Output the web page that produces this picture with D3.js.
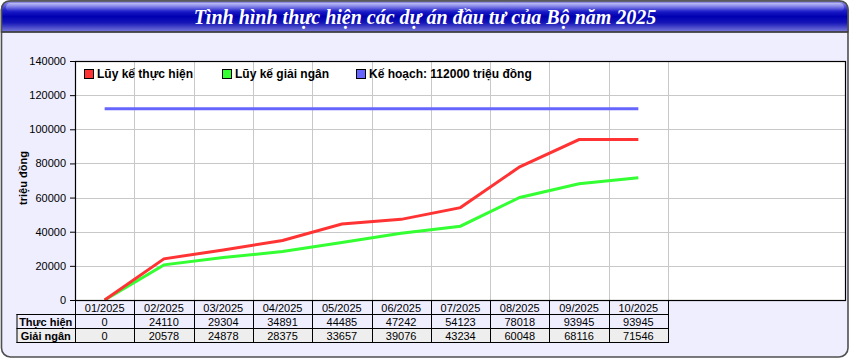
<!DOCTYPE html>
<html><head><meta charset="utf-8">
<script src="https://cdn.jsdelivr.net/npm/d3@7"></script>
<style>html,body{margin:0;padding:0;background:#fff;}svg{display:block;}</style>
</head><body>
<script>
const categories = ["01/2025","02/2025","03/2025","04/2025","05/2025","06/2025","07/2025","08/2025","09/2025","10/2025"];
const thucHien = [0,24110,29304,34891,44485,47242,54123,78018,93945,93945];
const giaiNgan = [0,20578,24878,28375,33657,39076,43234,60048,68116,71546];
const keHoach = [112000,112000,112000,112000,112000,112000,112000,112000,112000,112000];
const yTicks = [0,20000,40000,60000,80000,100000,120000,140000];
const seriesNames = ["Lũy kế thực hiện","Lũy kế giải ngân","Kế hoạch: 112000 triệu đồng"];
const rowLabels = ["Thực hiện","Giải ngân"];
const title = "Tình hình thực hiện các dự án đầu tư của Bộ năm 2025";
const yTitle = "triệu đồng";

const W=850,H=360;
const svg=d3.select("body").append("svg").attr("width",W).attr("height",H);
const defs=svg.append("defs");
const g1=defs.append("linearGradient").attr("id","tg").attr("x1",0).attr("y1",0).attr("x2",0).attr("y2",1);
[[0,"#a0a0e0"],[0.12,"#6a6ae6"],[0.3,"#2020cc"],[0.5,"#0000b0"],[0.7,"#1515b8"],[0.9,"#5a5ad0"],[1,"#7a7ada"]].forEach(s=>g1.append("stop").attr("offset",s[0]).attr("stop-color",s[1]));
const g2=defs.append("linearGradient").attr("id","hl").attr("x1",0).attr("y1",0).attr("x2",0).attr("y2",1);
g2.append("stop").attr("offset",0).attr("stop-color","#fff").attr("stop-opacity",0.45);
g2.append("stop").attr("offset",1).attr("stop-color","#fff").attr("stop-opacity",0.0);

// outer frame
svg.append("rect").attr("x",1.5).attr("y",1).attr("width",846.5).attr("height",356).attr("rx",9)
  .attr("fill","#EEEEFF").attr("stroke","#505050").attr("stroke-width",1.6);
// title bar
svg.append("path").attr("d","M1.5,32 L1.5,10 Q1.5,1 10.5,1 L839,1 Q848,1 848,10 L848,32 Z")
  .attr("fill","url(#tg)").attr("stroke","#505050").attr("stroke-width",1.6);
svg.append("rect").attr("x",6).attr("y",3).attr("width",838).attr("height",9).attr("rx",4.5).attr("fill","url(#hl)");
svg.append("line").attr("x1",1.5).attr("x2",848).attr("y1",32).attr("y2",32).attr("stroke","#303030").attr("stroke-width",1.2);
svg.append("text").attr("x",425).attr("y",24).attr("text-anchor","middle")
  .attr("font-family","'Liberation Serif','Times New Roman',serif").attr("font-style","italic").attr("font-weight","bold")
  .attr("font-size",20).attr("fill","#fff").text(title);

const pl=75, pr=845, pt=61, pb=300;
const x=d3.scaleBand().domain(categories).range([pl, pl+59.3*categories.length]).padding(0);
const y=d3.scaleLinear().domain([0,140000]).range([pb,pt]);
const cx=d=>x(d)+x.bandwidth()/2;

svg.append("rect").attr("x",pl).attr("y",pt).attr("width",pr-pl).attr("height",pb-pt).attr("fill","#fff");
// grid
svg.append("g").selectAll("line").data(yTicks.slice(1,-1)).join("line")
  .attr("x1",pl).attr("x2",pr).attr("y1",d=>Math.round(y(d))+0.5).attr("y2",d=>Math.round(y(d))+0.5)
  .attr("stroke","#c8c8c8").attr("stroke-width",1);
svg.append("g").selectAll("line").data(categories).join("line")
  .attr("x1",d=>Math.round(x(d)+x.bandwidth())+0.5).attr("x2",d=>Math.round(x(d)+x.bandwidth())+0.5)
  .attr("y1",pt).attr("y2",pb).attr("stroke","#c8c8c8").attr("stroke-width",1);

// y axis
const ya=svg.append("g").attr("transform",`translate(${pl},0)`)
  .call(d3.axisLeft(y).tickValues(yTicks).tickSize(5).tickFormat(d3.format("d")).tickSizeOuter(0));
ya.select(".domain").remove();
ya.selectAll("text").attr("font-family","'Liberation Sans',Arial,sans-serif").attr("font-size",11).attr("fill","#000").attr("dx","-1");
ya.selectAll("line").attr("stroke","#000");
svg.append("text").attr("transform","translate(27,178) rotate(-90)").attr("text-anchor","middle")
  .attr("font-family","'Liberation Sans',Arial,sans-serif").attr("font-weight","bold").attr("font-size",11).text(yTitle);

// lines
const colors=["#ff3333","#33ff33","#6666ff"];
const line=d3.line().x((d,i)=>cx(categories[i])).y(d=>y(d));
[keHoach,giaiNgan,thucHien].forEach((s,k)=>{
  const c=[colors[2],colors[1],colors[0]][k];
  svg.append("path").datum(s).attr("d",line).attr("fill","none").attr("stroke",c).attr("stroke-width",3);
});

// plot border
svg.append("rect").attr("x",pl+0.5).attr("y",pt+0.5).attr("width",pr-pl).attr("height",pb-pt).attr("fill","none").attr("stroke","#000").attr("stroke-width",1.2);

// legend
const lx=[84,222,356];
seriesNames.forEach((n,i)=>{
  svg.append("rect").attr("x",lx[i]+0.5).attr("y",69.5).attr("width",9).attr("height",9).attr("fill",colors[i]).attr("stroke","#000");
  svg.append("text").attr("x",lx[i]+13).attr("y",78).attr("font-family","'Liberation Sans',Arial,sans-serif")
    .attr("font-weight","bold").attr("font-size",12).attr("fill","#000").text(n);
});

// table
const tl=16.5, tr=x(categories[categories.length-1])+x.bandwidth();
const rows=[300,314,328,342];
svg.append("rect").attr("x",tl).attr("y",rows[2]).attr("width",tr-tl).attr("height",14).attr("fill","#EEEEEE");
const tg=svg.append("g").attr("stroke","#000").attr("stroke-width",1);
[rows[1],rows[2],rows[3]].forEach(r=>tg.append("line").attr("x1",tl).attr("x2",tr).attr("y1",r+0.5).attr("y2",r+0.5));
tg.append("line").attr("x1",tl+0.5).attr("x2",tl+0.5).attr("y1",rows[1]).attr("y2",rows[3]+1);
categories.forEach(c=>{
  tg.append("line").attr("x1",Math.round(x(c))+0.5).attr("x2",Math.round(x(c))+0.5).attr("y1",rows[0]).attr("y2",rows[3]+1);
});
tg.append("line").attr("x1",Math.round(tr)+0.5).attr("x2",Math.round(tr)+0.5).attr("y1",rows[0]).attr("y2",rows[3]+1);
const tf="'Liberation Sans',Arial,sans-serif";
svg.append("g").selectAll("text").data(categories).join("text").attr("x",d=>cx(d)).attr("y",rows[0]+12)
  .attr("text-anchor","middle").attr("font-family",tf).attr("font-size",11).text(d=>d);
[thucHien,giaiNgan].forEach((s,k)=>{
  svg.append("text").attr("x",(tl+pl)/2).attr("y",rows[k+1]+12).attr("text-anchor","middle")
    .attr("font-family",tf).attr("font-weight","bold").attr("font-size",11).text(rowLabels[k]);
  svg.append("g").selectAll("text").data(s).join("text").attr("x",(d,i)=>cx(categories[i])).attr("y",rows[k+1]+12)
    .attr("text-anchor","middle").attr("font-family",tf).attr("font-size",11).text(d=>d);
});
</script>
</body></html>
